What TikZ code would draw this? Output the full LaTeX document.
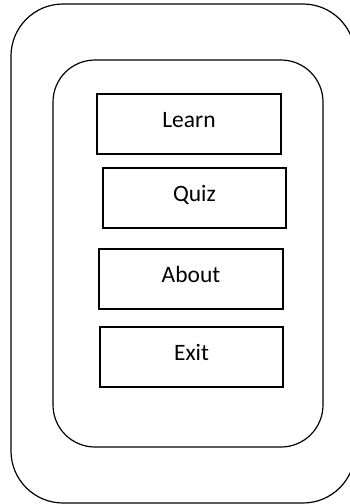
\documentclass[tikz,border=0pt]{standalone}
\usepackage{fontspec}
\setmainfont{Carlito}
\begin{document}
\begin{tikzpicture}[x=1pt,y=-1pt,
  frame/.style={draw=black,line width=1.2pt,inner sep=0pt,outer sep=0pt},
  menubtn/.style={draw=black,line width=1.2pt,inner sep=0pt,outer sep=0pt,
    font=\fontsize{23.5}{28}\selectfont,text height=15pt,text depth=8pt}]
\useasboundingbox (0,0) rectangle (350,504);
\begin{scope}
\clip (0,0) rectangle (350,504);
\node[frame,rounded corners=52pt,minimum width=344pt,minimum height=499pt] (outer) at (183,253.5) {};
\end{scope}
\node[frame,rounded corners=42pt,minimum width=270pt,minimum height=387pt] (inner) at (188,253.5) {};
\node[menubtn,minimum width=184pt,minimum height=60pt] (learn) at (189,124) {Learn};
\node[menubtn,minimum width=183pt,minimum height=60pt] (quiz) at (194.5,198) {Quiz};
\node[menubtn,minimum width=184pt,minimum height=60pt] (about) at (191,279) {About};
\node[menubtn,minimum width=183pt,minimum height=60pt] (exit) at (191.5,357) {Exit};
\end{tikzpicture}
\end{document}
